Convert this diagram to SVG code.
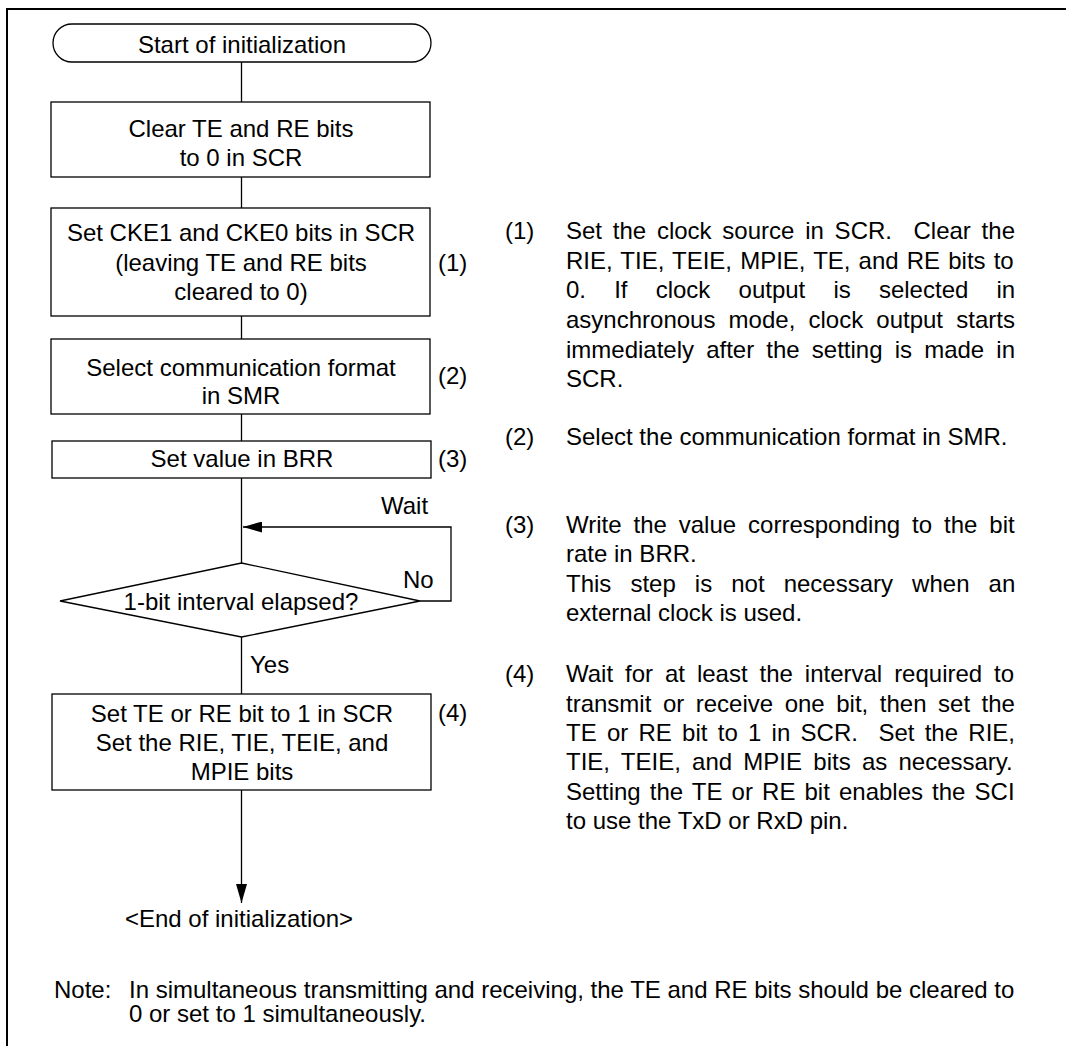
<svg xmlns="http://www.w3.org/2000/svg" width="1066" height="1046" viewBox="0 0 1066 1046">
<style>
text{font-family:"Liberation Sans",Arial,sans-serif;font-size:24px;fill:#000}
.c{text-anchor:middle}
.s{fill:#fff;stroke:#000;stroke-width:1.3}
.l{fill:none;stroke:#000;stroke-width:1.3}
</style>
<defs>
<marker id="ah" markerWidth="19" markerHeight="11" refX="19" refY="5.5" orient="auto" markerUnits="userSpaceOnUse">
<path d="M0,0 L19,5.5 L0,11 Z" fill="#000"/>
</marker>
</defs>
<rect width="1066" height="1046" fill="#fff"/>
<rect x="7" y="9" width="1070" height="1060" fill="none" stroke="#000" stroke-width="2"/>
<g id="connectors">
<line class="l" x1="241.5" y1="62" x2="241.5" y2="102"/>
<line class="l" x1="241.5" y1="177" x2="241.5" y2="208"/>
<line class="l" x1="241.5" y1="316" x2="241.5" y2="339"/>
<line class="l" x1="241.5" y1="414" x2="241.5" y2="441"/>
<line class="l" x1="241.5" y1="478" x2="241.5" y2="563"/>
<line class="l" x1="241.5" y1="637" x2="241.5" y2="694"/>
<line class="l" x1="241.5" y1="790" x2="241.5" y2="903" marker-end="url(#ah)"/>
<polyline class="l" points="420,601 451,601 451,527 243,527" marker-end="url(#ah)"/>
<text x="381" y="514">Wait</text>
<text x="403" y="588">No</text>
<text x="250" y="673">Yes</text>
</g>
<g id="start">
<rect class="s" x="53" y="24" width="378" height="38" rx="19" ry="19"/>
<text class="c" x="242" y="53">Start of initialization</text>
</g>
<g id="clear">
<rect class="s" x="51" y="102" width="379" height="75"/>
<text class="c" x="241" y="136.5">Clear TE and RE bits</text>
<text class="c" x="241" y="166">to 0 in SCR</text>
</g>
<g id="cke">
<rect class="s" x="51" y="208" width="379" height="108"/>
<text class="c" x="241" y="241">Set CKE1 and CKE0 bits in SCR</text>
<text class="c" x="241" y="271">(leaving TE and RE bits</text>
<text class="c" x="241" y="300">cleared to 0)</text>
<text x="438" y="271">(1)</text>
</g>
<g id="smr">
<rect class="s" x="51" y="339" width="379" height="75"/>
<text class="c" x="241" y="376">Select communication format</text>
<text class="c" x="241" y="404">in SMR</text>
<text x="438" y="384">(2)</text>
</g>
<g id="brr">
<rect class="s" x="52" y="441" width="379" height="37"/>
<text class="c" x="242" y="467">Set value in BRR</text>
<text x="438" y="467">(3)</text>
</g>
<g id="decision">
<polygon class="s" points="241.5,563 420,601 241.5,637 60,601"/>
<text class="c" x="241" y="610">1-bit interval elapsed?</text>
</g>
<g id="set">
<rect class="s" x="52" y="694" width="379" height="96"/>
<text class="c" x="242" y="722">Set TE or RE bit to 1 in SCR</text>
<text class="c" x="242" y="751">Set the RIE, TIE, TEIE, and</text>
<text class="c" x="242" y="780">MPIE bits</text>
<text x="438" y="721">(4)</text>
</g>
<g id="end">
<text class="c" x="239" y="927">&lt;End of initialization&gt;</text>
</g>
<g id="notes">
<text x="505" y="239">(1)</text>
<text x="566" y="239" xml:space="preserve" word-spacing="4.1">Set the clock source in SCR.  Clear the</text>
<text x="566" y="268.5" word-spacing="1.44">RIE, TIE, TEIE, MPIE, TE, and RE bits to</text>
<text x="566" y="298" word-spacing="21.5">0. If clock output is selected in</text>
<text x="566" y="328" word-spacing="6.5">asynchronous mode, clock output starts</text>
<text x="566" y="357.5" word-spacing="5.47">immediately after the setting is made in</text>
<text x="566" y="387">SCR.</text>
<text x="505" y="445">(2)</text>
<text x="566" y="445">Select the communication format in SMR.</text>
<text x="505" y="533">(3)</text>
<text x="566" y="533" word-spacing="5.25">Write the value corresponding to the bit</text>
<text x="566" y="562">rate in BRR.</text>
<text x="566" y="592" word-spacing="12.4">This step is not necessary when an</text>
<text x="566" y="621">external clock is used.</text>
<text x="505" y="682">(4)</text>
<text x="566" y="682" word-spacing="5.26">Wait for at least the interval required to</text>
<text x="566" y="711.5" word-spacing="4.87">transmit or receive one bit, then set the</text>
<text x="566" y="741" xml:space="preserve" word-spacing="3.59">TE or RE bit to 1 in SCR.  Set the RIE,</text>
<text x="566" y="770" word-spacing="4.58">TIE, TEIE, and MPIE bits as necessary.</text>
<text x="566" y="800" word-spacing="2.43">Setting the TE or RE bit enables the SCI</text>
<text x="566" y="829">to use the TxD or RxD pin.</text>
</g>
<g id="note">
<text x="54" y="998">Note:</text>
<text x="129" y="998">In simultaneous transmitting and receiving, the TE and RE bits should be cleared to</text>
<text x="129" y="1022">0 or set to 1 simultaneously.</text>
</g>
</svg>
